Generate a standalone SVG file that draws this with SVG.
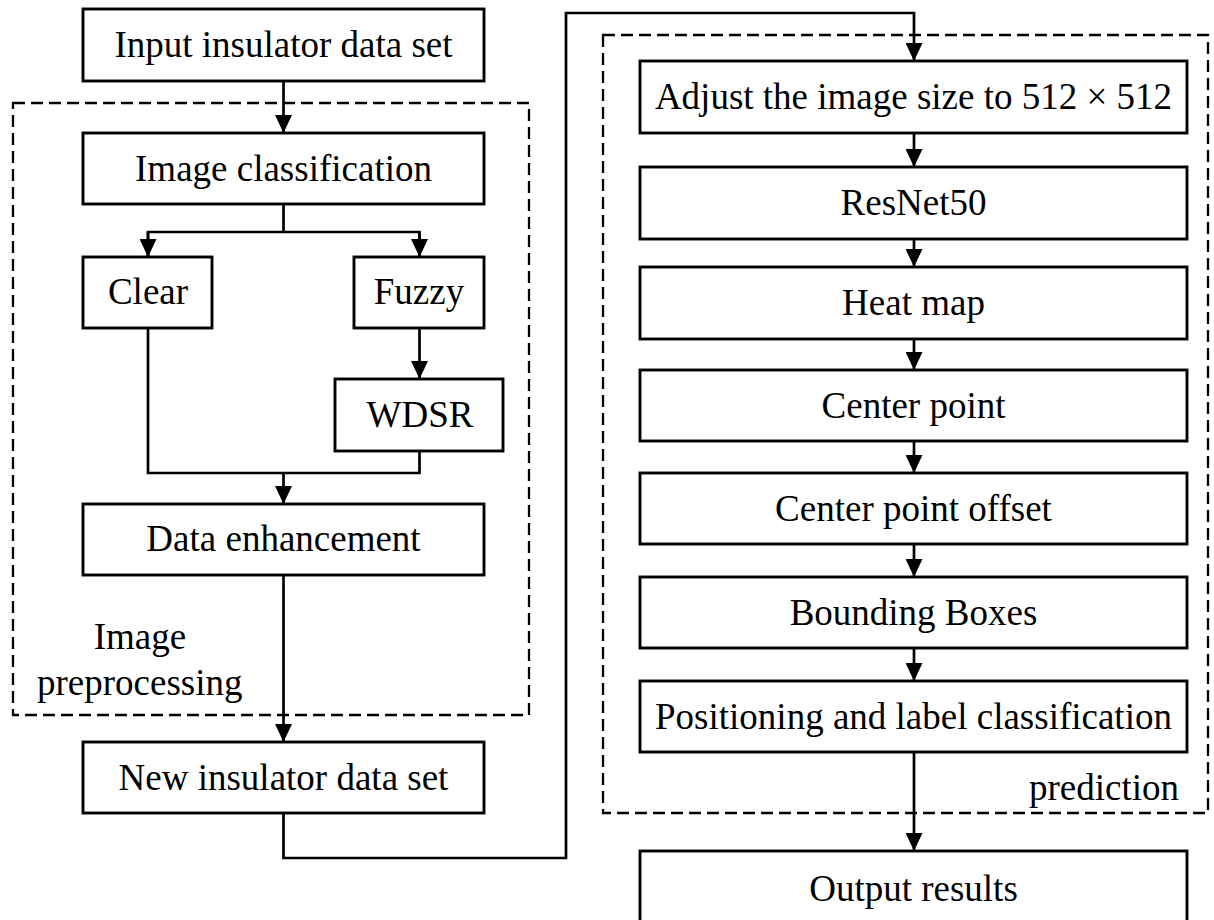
<svg xmlns="http://www.w3.org/2000/svg" width="1214" height="920" viewBox="0 0 1214 920">
  <style>
    .box { fill: #ffffff; stroke: #000000; stroke-width: 2.9; }
    .dash { fill: none; stroke: #000000; stroke-width: 2.3; stroke-dasharray: 12 6; }
    .txt { font-family: "Liberation Serif", "Times New Roman", serif; font-size: 37px; fill: #000000; text-anchor: middle; }
    .lbl { font-family: "Liberation Serif", "Times New Roman", serif; font-size: 37px; fill: #000000; }
    .conn { fill: none; stroke: #000000; stroke-width: 2.7; }
  </style>
  <defs>
    <marker id="arr" viewBox="0 0 18 17" refX="18" refY="8.5" markerWidth="18" markerHeight="17" markerUnits="userSpaceOnUse" orient="auto">
      <path d="M0,0 L18,8.5 L0,17 Z" fill="#000000"/>
    </marker>
  </defs>
  <rect width="1214" height="920" fill="#ffffff"/>

  <g id="groups">
    <rect id="preprocessing-group" class="dash" x="13" y="103" width="516" height="612"/>
    <text class="txt" x="140" y="649">Image</text>
    <text class="lbl" x="37" y="695">preprocessing</text>
    <rect id="prediction-group" class="dash" x="603" y="35" width="605" height="778"/>
    <text class="lbl" x="1029" y="800">prediction</text>
  </g>

  <g id="connectors">
    <line class="conn" x1="283.5" y1="81" x2="283.5" y2="133" marker-end="url(#arr)"/>
    <polyline class="conn" points="283.5,204 283.5,232"/>
    <polyline class="conn" points="148,257 148,232 419.5,232 419.5,257"/>
    <line class="conn" x1="148" y1="232" x2="148" y2="257" marker-end="url(#arr)"/>
    <line class="conn" x1="419.5" y1="232" x2="419.5" y2="257" marker-end="url(#arr)"/>
    <line class="conn" x1="419.5" y1="328" x2="419.5" y2="379" marker-end="url(#arr)"/>
    <polyline class="conn" points="148,328 148,473 419.5,473 419.5,451"/>
    <line class="conn" x1="283.5" y1="473" x2="283.5" y2="504" marker-end="url(#arr)"/>
    <line class="conn" x1="283.5" y1="575" x2="283.5" y2="742" marker-end="url(#arr)"/>
    <polyline class="conn" points="283.5,813 283.5,858 566,858 566,13 914,13 914,61" marker-end="url(#arr)"/>
    <line class="conn" x1="914" y1="133" x2="914" y2="167" marker-end="url(#arr)"/>
    <line class="conn" x1="914" y1="239" x2="914" y2="267" marker-end="url(#arr)"/>
    <line class="conn" x1="914" y1="339" x2="914" y2="370" marker-end="url(#arr)"/>
    <line class="conn" x1="914" y1="441" x2="914" y2="473" marker-end="url(#arr)"/>
    <line class="conn" x1="914" y1="544" x2="914" y2="577" marker-end="url(#arr)"/>
    <line class="conn" x1="914" y1="648" x2="914" y2="681" marker-end="url(#arr)"/>
    <line class="conn" x1="914" y1="752" x2="914" y2="851" marker-end="url(#arr)"/>
  </g>

  <g id="input">
    <rect class="box" x="83" y="9" width="401" height="72"/>
    <text class="txt" x="283.5" y="57">Input insulator data set</text>
  </g>
  <g id="image-classification">
    <rect class="box" x="83" y="133" width="401" height="71"/>
    <text class="txt" x="283.5" y="181">Image classification</text>
  </g>
  <g id="clear">
    <rect class="box" x="83" y="257" width="129" height="71"/>
    <text class="txt" x="148" y="304">Clear</text>
  </g>
  <g id="fuzzy">
    <rect class="box" x="354" y="257" width="130" height="71"/>
    <text class="txt" x="419" y="304">Fuzzy</text>
  </g>
  <g id="wdsr">
    <rect class="box" x="335" y="379" width="168" height="72"/>
    <text class="txt" x="420" y="427">WDSR</text>
  </g>
  <g id="data-enhancement">
    <rect class="box" x="83" y="504" width="401" height="71"/>
    <text class="txt" x="283.5" y="551">Data enhancement</text>
  </g>
  <g id="new-dataset">
    <rect class="box" x="83" y="742" width="401" height="71"/>
    <text class="txt" x="283.5" y="790">New insulator data set</text>
  </g>

  <g id="adjust">
    <rect class="box" x="640" y="61" width="547" height="72"/>
    <text class="txt" x="913.5" y="109">Adjust the image size to 512 × 512</text>
  </g>
  <g id="resnet">
    <rect class="box" x="640" y="167" width="547" height="72"/>
    <text class="txt" x="913.5" y="215">ResNet50</text>
  </g>
  <g id="heatmap">
    <rect class="box" x="640" y="267" width="547" height="72"/>
    <text class="txt" x="913.5" y="315">Heat map</text>
  </g>
  <g id="center-point">
    <rect class="box" x="640" y="370" width="547" height="71"/>
    <text class="txt" x="913.5" y="418">Center point</text>
  </g>
  <g id="center-offset">
    <rect class="box" x="640" y="473" width="547" height="71"/>
    <text class="txt" x="913.5" y="521">Center point offset</text>
  </g>
  <g id="bounding-boxes">
    <rect class="box" x="640" y="577" width="547" height="71"/>
    <text class="txt" x="913.5" y="625">Bounding Boxes</text>
  </g>
  <g id="positioning">
    <rect class="box" x="640" y="681" width="547" height="71"/>
    <text class="txt" x="913.5" y="729">Positioning and label classification</text>
  </g>
  <g id="output">
    <rect class="box" x="640" y="851" width="547" height="75"/>
    <text class="txt" x="913.5" y="901">Output results</text>
  </g>
</svg>
